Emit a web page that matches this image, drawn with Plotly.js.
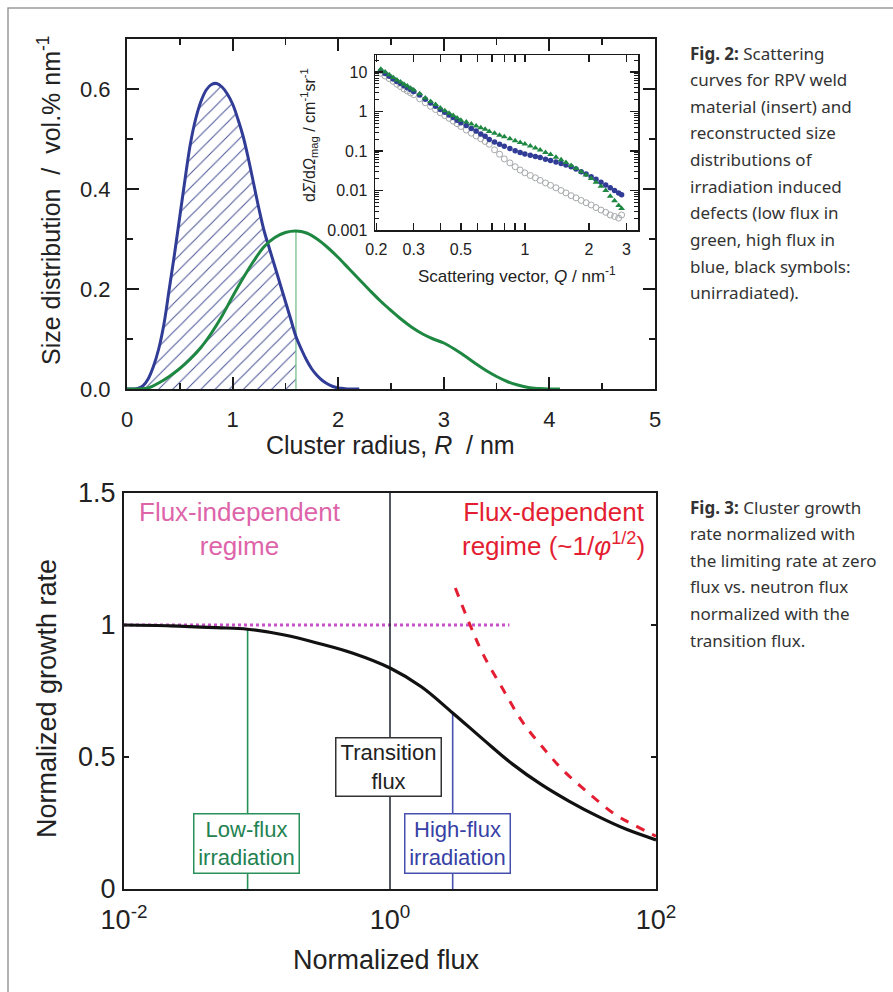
<!DOCTYPE html>
<html><head><meta charset="utf-8">
<script src="https://cdn.plot.ly/plotly-3.0.1.min.js"></script>
<style>html,body{margin:0;padding:0;background:#fff;}#chart{width:893px;height:992px;}</style>
</head><body><div id="chart"></div>
<script>
// ---------- Fig. 2 main: size distributions ----------
const radiusHigh = [0,0.1,0.15,0.2,0.25,0.3,0.35,0.4,0.45,0.5,0.55,0.6,0.65,0.7,0.75,0.8,0.85,0.9,0.95,1.0,1.05,1.1,1.15,1.2,1.25,1.3,1.35,1.4,1.45,1.5,1.55,1.6,1.65,1.7,1.75,1.8,1.85,1.9,1.95,2.0,2.05,2.1,2.2];
const sizeHigh   = [0,0.001,0.006,0.02,0.045,0.08,0.13,0.2,0.27,0.345,0.42,0.49,0.54,0.575,0.598,0.609,0.611,0.604,0.59,0.57,0.54,0.505,0.46,0.41,0.36,0.315,0.28,0.245,0.21,0.175,0.14,0.105,0.08,0.058,0.04,0.027,0.017,0.01,0.005,0.002,0.001,0,0];
const radiusLow = [0,0.2,0.3,0.4,0.5,0.6,0.7,0.8,0.9,1.0,1.1,1.2,1.3,1.4,1.5,1.6,1.7,1.8,1.9,2.0,2.1,2.2,2.3,2.4,2.5,2.6,2.7,2.8,2.9,3.0,3.1,3.2,3.3,3.4,3.5,3.6,3.7,3.8,3.9,4.0,4.1];
const sizeLow   = [0,0.002,0.012,0.025,0.041,0.06,0.083,0.112,0.146,0.185,0.222,0.256,0.285,0.303,0.313,0.316,0.312,0.3,0.283,0.263,0.241,0.219,0.197,0.176,0.157,0.139,0.123,0.11,0.1,0.092,0.08,0.066,0.051,0.037,0.025,0.015,0.008,0.003,0.001,0,0];
const hatchLimit = 1.6;
const peakLineX = [1.6,1.6];
const peakLineY = [0,0.316];

// ---------- Fig. 2 insert: scattering curves ----------
const qValues = [0.21,0.22,0.23,0.24,0.25,0.26,0.27,0.28,0.29,0.30,0.32,0.34,0.36,0.38,0.40,0.42,0.44,0.46,0.48,0.50,0.53,0.56,0.59,0.62,0.65,0.68,0.72,0.76,0.80,0.85,0.90,0.95,1.00,1.06,1.12,1.18,1.25,1.32,1.40,1.48,1.56,1.65,1.74,1.84,1.94,2.05,2.16,2.28,2.40,2.52,2.64,2.76,2.85];
const lowFluxI  = [11.7,10.0,8.5,7.2,6.3,5.6,4.9,4.4,3.9,3.5,2.8,2.2,1.8,1.5,1.23,1.05,0.90,0.79,0.68,0.60,0.54,0.48,0.43,0.39,0.355,0.31,0.28,0.25,0.23,0.204,0.182,0.164,0.150,0.133,0.119,0.106,0.092,0.081,0.069,0.060,0.051,0.043,0.036,0.030,0.0245,0.020,0.0162,0.0129,0.0100,0.0072,0.0055,0.0042,0.0035];
const highFluxI = [10.7,9.1,7.8,6.6,5.75,5.1,4.5,4.0,3.6,3.2,2.6,2.04,1.64,1.35,1.12,0.95,0.81,0.70,0.60,0.52,0.44,0.37,0.32,0.27,0.237,0.195,0.17,0.148,0.132,0.116,0.102,0.092,0.084,0.0785,0.073,0.068,0.062,0.0575,0.0525,0.0484,0.0442,0.040,0.035,0.030,0.0263,0.0224,0.0193,0.0162,0.0138,0.0117,0.0100,0.0087,0.0078];
const unirrI    = [9.3,7.9,6.8,5.8,4.9,4.27,3.7,3.3,2.95,2.66,2.09,1.66,1.35,1.12,0.93,0.785,0.67,0.57,0.49,0.417,0.339,0.282,0.24,0.204,0.174,0.148,0.107,0.083,0.063,0.050,0.040,0.033,0.028,0.024,0.021,0.018,0.0155,0.0135,0.0117,0.0100,0.0087,0.0074,0.0065,0.0056,0.0049,0.0043,0.0037,0.0032,0.0028,0.0024,0.0022,0.0020,0.0024];
const qTickVals = [0.2,0.3,0.5,1,2,3];
const qTickText = ['0.2','0.3','0.5','1','2','3'];
const qMinorVals = [0.4,0.6,0.7,0.8,0.9];
const iTickVals = [0.001,0.01,0.1,1,10];
const iTickText = ['0.001','0.01','0.1','1','10'];

// ---------- Fig. 3: growth rate ----------
const fluxX = [0.01,0.0225,0.05,0.085,0.161,0.292,0.527,1,1.72,2.96,5.09,8.34,13.6,22.3,36.6,59.9,100];
const rateY = [1.0,0.997,0.99,0.984,0.962,0.93,0.893,0.837,0.766,0.667,0.564,0.473,0.397,0.332,0.275,0.226,0.186];
const depX = [3.1,4,5,7,10,15,20,30,50,70,100];
const depY = [1.14,1.0,0.89,0.76,0.63,0.52,0.45,0.37,0.28,0.24,0.2];
const indepX = [0.01,7.9];
const indepY = [1,1];
const lowFluxLineX = [0.085,0.085];
const lowFluxLineY = [0,0.984];
const transLineX = [1,1];
const transLineY = [0,1.5];
const highFluxLineX = [2.96,2.96];
const highFluxLineY = [0,0.667];
const rateTickVals = [0,0.5,1,1.5];
const rateTickText = ['0','0.5','1','1.5'];
const fluxTickVals = [0.01,1,100];
const fluxTickText = ['10<sup>-2</sup>','10<sup>0</sup>','10<sup>2</sup>'];

const fig2Caption = ['<b>Fig. 2:</b> Scattering','curves for RPV weld','material (insert) and','reconstructed size','distributions of','irradiation induced','defects (low flux in','green, high flux in','blue, black symbols:','unirradiated).'];
const fig3Caption = ['<b>Fig. 3:</b> Cluster growth','rate normalized with','the limiting rate at zero','flux vs. neutron flux','normalized with the','transition flux.'];

// ---------- colours ----------
const BLUE = 'rgb(48,60,150)';
const GREEN = 'rgb(30,135,65)';
const GREY = 'rgb(165,168,170)';

const W = 893, H = 992;
const px = x => x / W;
const py = y => 1 - y / H;

const hatchX = radiusHigh.filter(r => r <= hatchLimit);
const hatchY = sizeHigh.slice(0, hatchX.length);

const traces = [
  {x: hatchX, y: hatchY, xaxis:'x', yaxis:'y', type:'scatter', mode:'none', fill:'tozeroy',
   fillcolor:'rgba(0,0,0,0)', fillpattern:{shape:'/', fgcolor:'rgb(75,85,150)', bgcolor:'rgba(255,255,255,0)', size:10, solidity:0.1}, hoverinfo:'skip'},
  {x: peakLineX, y: peakLineY, xaxis:'x', yaxis:'y', type:'scatter', mode:'lines', line:{color:'rgb(120,190,140)', width:1.3}},
  {x: radiusHigh, y: sizeHigh, xaxis:'x', yaxis:'y', type:'scatter', mode:'lines', line:{color:BLUE, width:3, shape:'spline'}},
  {x: radiusLow, y: sizeLow, xaxis:'x', yaxis:'y', type:'scatter', mode:'lines', line:{color:GREEN, width:3, shape:'spline'}},

  {x: qValues, y: unirrI, xaxis:'x2', yaxis:'y2', type:'scatter', mode:'markers',
   marker:{symbol:'circle-open', size:6, color:GREY, line:{width:1}}},
  {x: qValues, y: highFluxI, xaxis:'x2', yaxis:'y2', type:'scatter', mode:'markers',
   marker:{symbol:'circle', size:5.5, color:BLUE}},
  {x: qValues, y: lowFluxI, xaxis:'x2', yaxis:'y2', type:'scatter', mode:'markers',
   marker:{symbol:'triangle-up', size:6, color:GREEN}},

  {x: indepX, y: indepY, xaxis:'x3', yaxis:'y3', type:'scatter', mode:'lines', line:{color:'rgb(200,80,200)', width:3, dash:'dot'}},
  {x: lowFluxLineX, y: lowFluxLineY, xaxis:'x3', yaxis:'y3', type:'scatter', mode:'lines', line:{color:'rgb(40,145,90)', width:1.6}},
  {x: transLineX, y: transLineY, xaxis:'x3', yaxis:'y3', type:'scatter', mode:'lines', line:{color:'#27303a', width:1.6}},
  {x: highFluxLineX, y: highFluxLineY, xaxis:'x3', yaxis:'y3', type:'scatter', mode:'lines', line:{color:'rgb(70,80,175)', width:1.6}},
  {x: fluxX, y: rateY, xaxis:'x3', yaxis:'y3', type:'scatter', mode:'lines', line:{color:'#111', width:3.2, shape:'spline'}},
  {x: depX, y: depY, xaxis:'x3', yaxis:'y3', type:'scatter', mode:'lines', line:{color:'rgb(228,30,50)', width:3, dash:'dash', shape:'spline'}}
];

function minorLogTicks(lo, hi){ const out=[]; for(let e=lo;e<hi;e++){ for(let d=2;d<=9;d++) out.push(d*Math.pow(10,e)); } return out; }

const axBase = {showgrid:false, zeroline:false, showline:true, linecolor:'#1a1a1a', mirror:'allticks', ticks:'inside', tickcolor:'#1a1a1a'};

const annotations = [];
function ann(o){ annotations.push(Object.assign({xref:'paper', yref:'paper', showarrow:false}, o)); }

// axis titles
ann({x:px(390), y:py(445), text:'Cluster radius, <i>R</i>\u00a0 / nm', font:{size:25, color:'#222'}, xanchor:'center', yanchor:'middle'});
ann({x:px(49), y:py(200), text:'Size distribution\u00a0 /\u00a0 vol.% nm<sup>-1</sup>', textangle:-90, font:{size:25, color:'#222'}, xanchor:'center', yanchor:'middle'});
ann({x:px(517), y:py(275), text:'Scattering vector, <i>Q</i> / nm<sup>-1</sup>', font:{size:17, color:'#222'}, xanchor:'center', yanchor:'middle'});
ann({x:px(309), y:py(135), text:'d<i>Σ</i>/d<i>Ω</i><sub>mag</sub> / cm<sup>-1</sup>sr<sup>-1</sup>', textangle:-90, font:{size:16, color:'#222'}, xanchor:'center', yanchor:'middle'});
ann({x:px(386), y:py(960), text:'Normalized flux', font:{size:27, color:'#222'}, xanchor:'center', yanchor:'middle'});
ann({x:px(47), y:py(699), text:'Normalized growth rate', textangle:-90, font:{size:27, color:'#222'}, xanchor:'center', yanchor:'middle'});

// regime labels
ann({x:px(240), y:py(529), text:'Flux-independent<br>regime', font:{size:26, color:'rgb(222,100,170)'}, xanchor:'center', yanchor:'middle', align:'center'});
ann({x:px(553), y:py(529), text:'Flux-dependent<br>regime (~1/<i>φ</i><sup>1/2</sup>)', font:{size:26, color:'rgb(228,30,50)'}, xanchor:'center', yanchor:'middle', align:'center'});

// boxed labels
ann({x:px(388), y:py(767), text:'Transition<br>flux', font:{size:22, color:'#222'}, bgcolor:'#fff', bordercolor:'#333', borderwidth:1.5, borderpad:0, width:104, height:57, xanchor:'center', yanchor:'middle'});
ann({x:px(246), y:py(843), text:'Low-flux<br>irradiation', font:{size:22, color:'rgb(35,130,80)'}, bgcolor:'#fff', bordercolor:'rgb(40,145,90)', borderwidth:1.5, borderpad:0, width:104, height:58, xanchor:'center', yanchor:'middle'});
ann({x:px(458), y:py(843), text:'High-flux<br>irradiation', font:{size:22, color:'rgb(55,65,165)'}, bgcolor:'#fff', bordercolor:'rgb(70,80,175)', borderwidth:1.5, borderpad:0, width:104, height:58, xanchor:'center', yanchor:'middle'});

// captions
const capFont = {family:'Noto Sans, Open Sans, sans-serif', size:17, color:'#333'};
fig2Caption.forEach((t,i) => ann({x:px(688), y:py(53 + i*26.65), text:t, font:capFont, xanchor:'left', yanchor:'middle', align:'left'}));
fig3Caption.forEach((t,i) => ann({x:px(688), y:py(507 + i*26.65), text:t, font:capFont, xanchor:'left', yanchor:'middle', align:'left'}));

const layout = {
  width:W, height:H, margin:{l:0,r:0,t:0,b:0}, showlegend:false,
  paper_bgcolor:'#fff', plot_bgcolor:'#fff',
  font:{family:'Liberation Sans, Arial, sans-serif', color:'#222'},
  xaxis: Object.assign({}, axBase, {domain:[px(127),px(655)], anchor:'y', range:[0,5], dtick:1, tick0:0,
    ticklen:12, tickwidth:2, linewidth:2, tickfont:{size:22}, ticklabelstandoff:10,
    minor:{dtick:0.5, ticklen:6, tickwidth:1.5, ticks:'inside', tickcolor:'#1a1a1a'}}),
  yaxis: Object.assign({}, axBase, {domain:[py(389),py(39)], anchor:'x', range:[0,0.7], dtick:0.2, tick0:0, tickformat:'.1f',
    ticklen:12, tickwidth:2, linewidth:2, tickfont:{size:22}, ticklabelstandoff:10,
    minor:{dtick:0.1, ticklen:6, tickwidth:1.5, ticks:'inside', tickcolor:'#1a1a1a'}}),
  xaxis2: Object.assign({}, axBase, {domain:[px(375),px(638)], anchor:'y2', type:'log', range:[-0.705,0.532],
    tickmode:'array', tickvals:qTickVals, ticktext:qTickText, ticklen:7, tickwidth:1.5, linewidth:1.5, tickfont:{size:16}, ticklabelstandoff:4,
    minor:{tickmode:'array', tickvals:qMinorVals, ticks:'inside', ticklen:7, tickwidth:1.5, tickcolor:'#1a1a1a'}}),
  yaxis2: Object.assign({}, axBase, {domain:[py(230),py(55)], anchor:'x2', type:'log', range:[-3,1.43],
    tickmode:'array', tickvals:iTickVals, ticktext:iTickText, ticklen:8, tickwidth:1.5, linewidth:1.5, tickfont:{size:16}, ticklabelstandoff:3,
    minor:{tickmode:'array', tickvals:minorLogTicks(-3,2), ticks:'inside', ticklen:4, tickwidth:1, tickcolor:'#1a1a1a'}}),
  xaxis3: Object.assign({}, axBase, {domain:[px(124),px(656)], anchor:'y3', type:'log', range:[-2,2],
    tickmode:'array', tickvals:fluxTickVals, ticktext:fluxTickText, ticks:'', linewidth:2, tickfont:{size:27}, ticklabelstandoff:6}),
  yaxis3: Object.assign({}, axBase, {domain:[py(889),py(493)], anchor:'x3', range:[0,1.5],
    tickmode:'array', tickvals:rateTickVals, ticktext:rateTickText, ticklen:5, tickwidth:1.5, linewidth:2, tickfont:{size:27}, ticklabelstandoff:1}),
  annotations: annotations,
  shapes:[{type:'rect', xref:'paper', yref:'paper', x0:px(8), x1:1.02, y0:-0.02, y1:py(8), line:{color:'#9a9a9a', width:1.5}, fillcolor:'rgba(0,0,0,0)'}]
};

Plotly.newPlot('chart', traces, layout, {staticPlot:true, displayModeBar:false});
</script></body></html>
